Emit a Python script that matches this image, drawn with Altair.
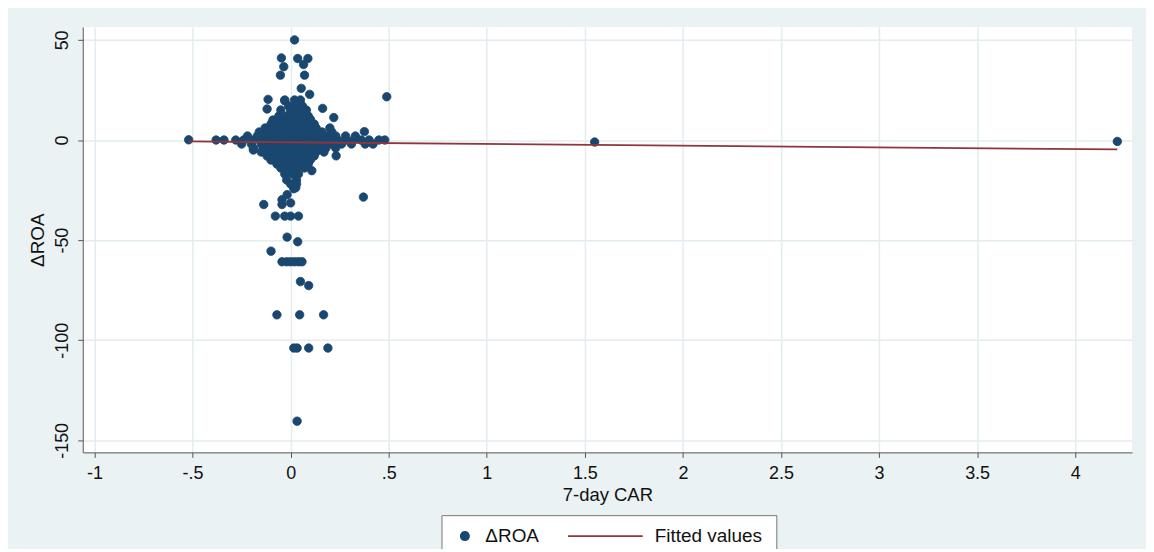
import altair as alt
import pandas as pd

# ---- scattered (outlying) observations: 7-day CAR, change in ROA ----
outlier_car = [0.02, -0.047, 0.036, 0.088, 0.066, -0.035, -0.052, 0.071, 0.054, 0.097,
               0.49, -0.115, -0.03, -0.12, 0.163, 0.10, 0.22, -0.09, 0.376, -0.52,
               0.232, 0.371, -0.137, 0.108, -0.19, 0.026, -0.078, -0.03, 0.0, 0.04,
               -0.018, 0.036, -0.10, -0.044, -0.02, 0.0, 0.02, 0.04, 0.058, 0.05,
               0.092, -0.07, 0.046, 0.168, 0.016, 0.033, 0.092, 0.19, 0.033, 1.55,
               4.215, -0.044, -0.018, 0.016, 0.0, -0.044, -0.02, 0.03]
outlier_droa = [50, 41, 40.7, 40.7, 37.7, 36.6, 32.4, 32.4, 25.8, 22.8,
                21.6, 20.3, 19.6, 15.5, 15.8, 10.4, 11.2, 9.2, 4.2, 0.1,
                -7.9, -28.5, -32.2, -15.3, -5, -23.8, -38, -38, -38, -38,
                -48.5, -50.8, -55.5, -60.8, -60.8, -60.8, -60.8, -60.8, -60.8, -70.7,
                -72.7, -87.3, -87.3, -87.3, -103.9, -103.9, -103.9, -103.9, -140.4, -1,
                -0.7, -29.8, -27.3, -24.3, -31.4, -32.2, -20, -20]

# ---- dense core of observations, read row by row (ΔROA level -> CAR values) ----
core_rows = {
    20: [-0.03, 0.02, 0.05],
    17: [-0.01, 0.03, 0.06],
    15: [-0.05, 0.0, 0.04, 0.08],
    12: [-0.06, -0.02, 0.02, 0.06, 0.09],
    10: [-0.09, -0.04, 0.0, 0.03, 0.07, 0.1],
    8: [-0.1, -0.06, -0.03, 0.01, 0.05, 0.08, 0.12],
    6: [-0.13, -0.09, -0.05, -0.02, 0.02, 0.05, 0.09, 0.13, 0.2],
    4: [-0.16, -0.12, -0.08, -0.04, 0.0, 0.04, 0.08, 0.12, 0.16, 0.21],
    2: [-0.22, -0.17, -0.13, -0.09, -0.05, -0.01, 0.03, 0.07, 0.11, 0.15, 0.19, 0.23, 0.28, 0.33],
    0: [-0.38, -0.34, -0.28, -0.24, -0.2, -0.16, -0.12, -0.08, -0.04, 0.0, 0.04, 0.08,
        0.12, 0.16, 0.2, 0.24, 0.28, 0.32, 0.36, 0.4, 0.45, 0.48],
    -2: [-0.25, -0.2, -0.15, -0.11, -0.07, -0.03, 0.01, 0.05, 0.09, 0.13, 0.17, 0.21,
         0.26, 0.31, 0.38, 0.42],
    -4: [-0.19, -0.14, -0.1, -0.06, -0.02, 0.02, 0.06, 0.1, 0.14, 0.18, 0.23],
    -6: [-0.15, -0.11, -0.07, -0.03, 0.01, 0.05, 0.09, 0.13, 0.17],
    -8: [-0.12, -0.08, -0.04, 0.0, 0.04, 0.08, 0.12],
    -10: [-0.1, -0.06, -0.02, 0.02, 0.06, 0.1],
    -12: [-0.07, -0.03, 0.01, 0.05, 0.09],
    -14: [-0.05, -0.01, 0.03, 0.07],
    -17: [-0.03, 0.01, 0.04],
    -22: [0.0, 0.03],
}

# ---- fitted regression line end points ----
fit_car = [-0.52, 4.215]
fit_droa = [-0.7, -4.7]

series_names = ["ΔROA", "Fitted values"]
series_colors = ["#1a476f", "#90353b"]

x_tick_values = [-1, -0.5, 0, 0.5, 1, 1.5, 2, 2.5, 3, 3.5, 4]
x_tick_labels = ["-1", "-.5", "0", ".5", "1", "1.5", "2", "2.5", "3", "3.5", "4"]
y_tick_values = [50, 0, -50, -100, -150]
y_tick_labels = ["50", "0", "-50", "-100", "-150"]

# ---- build tables ----
car = list(outlier_car)
droa = list(outlier_droa)
for level, xs in core_rows.items():
    car.extend(xs)
    droa.extend([level] * len(xs))
df = pd.DataFrame({"car": car, "droa": droa, "series": series_names[0]})
fit = pd.DataFrame({"car": fit_car, "droa": fit_droa})


def label_expr(values, labels):
    return " : ".join(f"datum.value == {v} ? '{l}'" for v, l in zip(values, labels)) + " : ''"


FONT = "Liberation Sans"
GRID = "#e3ecef"
AXIS = "#555555"
TXT = "#111111"

xscale = alt.Scale(domain=[-1.06, 4.29], nice=False, zero=False)
yscale = alt.Scale(domain=[-156, 56.5], nice=False, zero=False)

xaxis = alt.Axis(values=x_tick_values, labelExpr=label_expr(x_tick_values, x_tick_labels),
                 grid=True, gridColor=GRID, gridWidth=1.5, domainColor=AXIS, tickColor=AXIS,
                 tickSize=5, labelFont=FONT, labelFontSize=18, labelColor=TXT, labelPadding=7,
                 titleFont=FONT, titleFontSize=18.5, titleFontWeight="normal",
                 titleColor=TXT, titlePadding=3)
yaxis = alt.Axis(values=y_tick_values, labelExpr=label_expr(y_tick_values, y_tick_labels),
                 grid=True, gridColor=GRID, gridWidth=1.5,
                 domainColor=AXIS, tickColor=AXIS, tickSize=5, labelAngle=270,
                 labelAlign="center", labelBaseline="bottom", labelPadding=6,
                 labelFont=FONT, labelFontSize=18, labelColor=TXT,
                 titleFont=FONT, titleFontSize=19, titleFontWeight="normal",
                 titleColor=TXT, titlePadding=6)

legend = alt.Legend(title=None, orient="none", legendX=360, legendY=490,
                    direction="horizontal", padding=14, strokeColor="#777777",
                    fillColor="white", labelFont=FONT, labelFontSize=19, labelColor=TXT,
                    labelOffset=11, columnPadding=28, clipHeight=14,
                    symbolStrokeWidth=1.6, symbolFillColor=series_colors[0])

points = alt.Chart(df).mark_point(filled=False, fill=series_colors[0], strokeWidth=0.8,
                                  opacity=1).encode(
    x=alt.X("car:Q", scale=xscale, axis=xaxis, title="7-day CAR"),
    y=alt.Y("droa:Q", scale=yscale, axis=yaxis, title="ΔROA"),
    color=alt.Color("series:N", scale=alt.Scale(domain=series_names, range=series_colors),
                    legend=legend),
    shape=alt.Shape("series:N", scale=alt.Scale(domain=series_names, range=["circle", "stroke"]),
                    legend=legend),
    size=alt.Size("series:N", scale=alt.Scale(domain=series_names, range=[72, 5625]),
                  legend=legend),
)

line = alt.Chart(fit).mark_line(color=series_colors[1], strokeWidth=1.8).encode(
    x=alt.X("car:Q", scale=xscale),
    y=alt.Y("droa:Q", scale=yscale),
)

chart = alt.layer(points, line).properties(
    width=1053, height=427, background="#eaf2f3",
    padding={"left": 75, "top": 18, "right": 14, "bottom": 96},
    autosize=alt.AutoSizeParams(type="none"),
).configure_view(fill="white", stroke=None)

chart.save("out.html", embed_options={"renderer": "svg", "actions": False})
